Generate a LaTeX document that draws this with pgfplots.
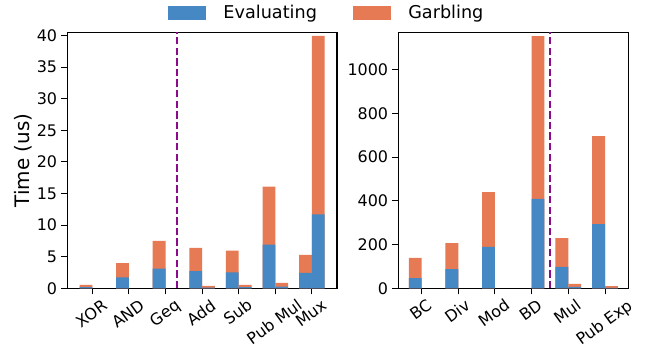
\documentclass[border=0pt]{standalone}
\usepackage{pgfplots}
\pgfplotsset{compat=1.18}
\usepackage{fontspec}
\setmainfont{DejaVu Sans}
\definecolor{cblue}{RGB}{70,136,196}
\definecolor{corange}{RGB}{229,122,85}
\definecolor{cpurple}{RGB}{140,10,140}
\newcommand{\xlfont}{\fontsize{16}{19}\selectfont}
% rotated tick label, centred on the tick like matplotlib (ha=center);
% #2 = distance (bp) from the axis line down to the centre of the rotated label
\newcommand{\xl}[3]{\node[xlab] at ([yshift=-#2bp]axis cs:#1,0) {#3};}
\tikzset{xlab/.style={rotate=36, anchor=center, inner sep=0pt, font=\xlfont, text height=12bp, text depth=4bp}}
\pgfplotsset{
 myax/.style={
  scale only axis, height=256bp, anchor=south west,
  ymin=0, axis line style={line width=1.1bp},
  tick align=outside, major tick length=6bp, tick style={line width=1bp, black},
  xtick pos=bottom, ytick pos=left,
  ticklabel style={font=\fontsize{16}{19}\selectfont},
  /pgf/number format/assume math mode=true,
  /pgf/number format/1000 sep={},
  xticklabels={},
  yticklabel style={inner sep=0pt, xshift=-4bp},
  clip mode=individual,
 },
 eb/.style={ybar, bar width=0.35, draw=none, fill=cblue, forget plot},
 gb/.style={ybar, bar width=0.35, draw=none, fill=corange, forget plot},
 vl/.style={cpurple, line width=2bp, dash pattern=on 7.4bp off 3.2bp, forget plot},
}
\begin{document}
\begin{tikzpicture}
\useasboundingbox (0,0) rectangle (647bp,353bp);
\begin{axis}[myax, at={(67.3bp,64.7bp)}, width=269.7bp,
  xmin=-0.685, xmax=6.685, ymax=40.5, ytick={0,5,...,40}, xtick={0,...,6},
  ylabel={Time (us)},
  ylabel style={at={(axis description cs:-0.163,0.5)}, anchor=center, rotate=0, font=\fontsize{20}{24}\selectfont},
  legend style={at={(0.962,1.0766)}, anchor=center, draw=none, fill=none, legend columns=2,
    font=\fontsize{17.7}{21}\selectfont, inner sep=0pt,
    /tikz/every odd column/.append style={column sep=16bp},
    /tikz/every even column/.append style={column sep=34bp}},
]
\addlegendimage{legend image code/.code={\fill[cblue] (0bp,-6.15bp) rectangle (37bp,6.15bp);}}
\addlegendentry{Evaluating}
\addlegendimage{legend image code/.code={\fill[corange] (0bp,-6.15bp) rectangle (37bp,6.15bp);}}
\addlegendentry{Garbling}
% group A (left bars): Garbling stacked on Evaluating -> totals
\addplot[gb, bar shift=-0.175] coordinates {(0,0.55)(1,4.0)(2,7.5)(3,6.4)(4,5.95)(5,16.1)(6,5.3)};
\addplot[eb, bar shift=-0.175] coordinates {(0,0.2)(1,1.74)(2,3.1)(3,2.7)(4,2.5)(5,6.9)(6,2.45)};
% group B (right bars)
\addplot[gb, bar shift=0.175] coordinates {(3,0.37)(4,0.53)(5,0.84)(6,39.95)};
\addplot[eb, bar shift=0.175] coordinates {(3,0.1)(4,0.2)(5,0.26)(6,11.7)};
\addplot[vl] coordinates {(2.3,0) (2.3,40.5)};
\xl{0}{26.7}{XOR}\xl{1}{26.8}{AND}\xl{2}{26.0}{Geq}\xl{3}{25.7}{Add}\xl{4}{25.4}{Sub}\xl{5}{35.1}{Pub Mul}\xl{6}{26.3}{Mux}
\end{axis}
\begin{axis}[myax, at={(398.3bp,64.7bp)}, width=230bp,
  xmin=-0.635, xmax=5.635, ymax=1171, ytick={0,200,...,1000}, xtick={0,...,5},
]
\addplot[gb, bar shift=-0.175] coordinates {(0,139)(1,207)(2,440)(4,230)(5,696)};
\addplot[eb, bar shift=-0.175] coordinates {(0,46)(1,88)(2,189)(4,98)(5,294)};
\addplot[gb, bar shift=0.175] coordinates {(3,1154)(4,20)(5,10)};
\addplot[eb, bar shift=0.175] coordinates {(3,409)(4,6)(5,2)};
\addplot[vl] coordinates {(3.5,0) (3.5,1171)};
\xl{0}{23.0}{BC}\xl{1}{24.2}{Div}\xl{2}{26.4}{Mod}\xl{3}{23.3}{BD}\xl{4}{24.8}{Mul}\xl{5}{35.5}{Pub Exp}
\end{axis}
\end{tikzpicture}
\end{document}
